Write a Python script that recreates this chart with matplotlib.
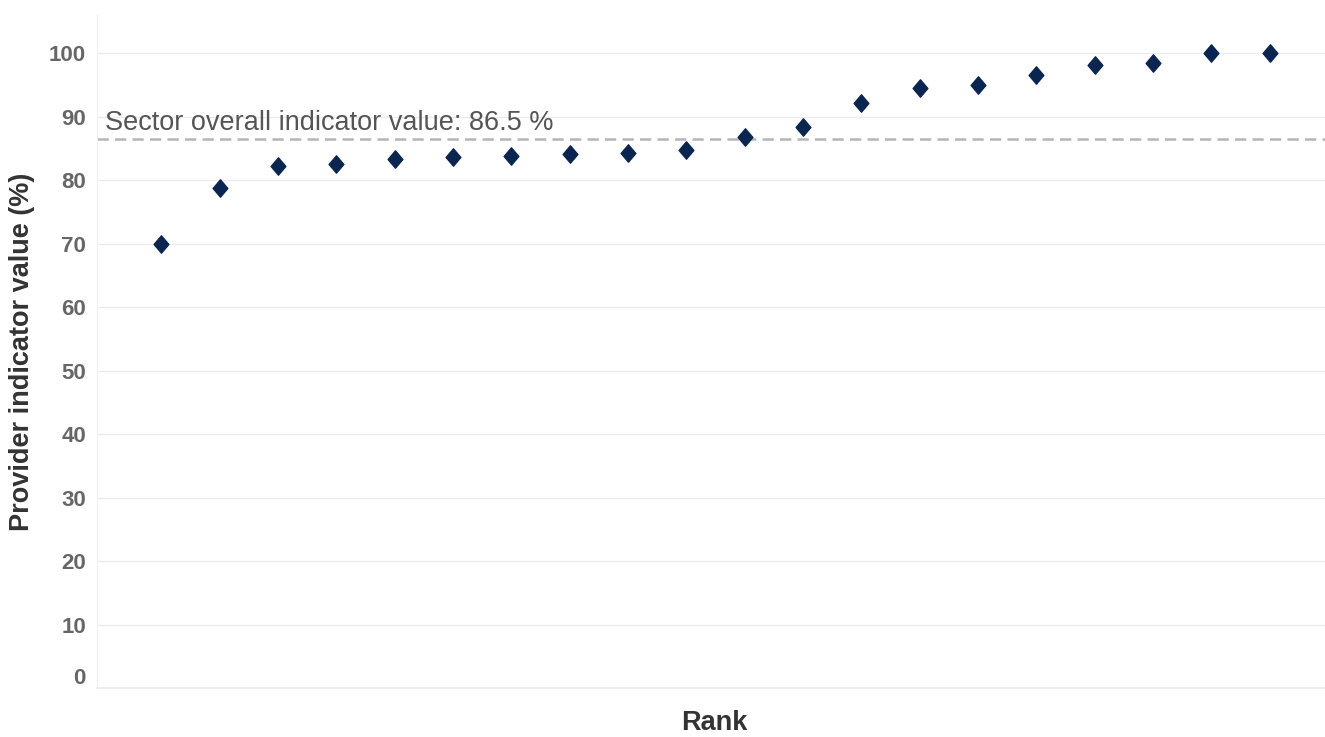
import matplotlib.pyplot as plt
from matplotlib.path import Path
from matplotlib.transforms import ScaledTranslation

# provider values, sorted by rank
RANKS = list(range(1, 21))
VALUES = [70.0, 78.7, 82.2, 82.6, 83.3, 83.6, 83.8, 84.1, 84.2, 84.7,
          86.8, 88.3, 92.2, 94.5, 95.0, 96.6, 98.2, 98.4, 100.0, 100.0]
SECTOR_VALUE = 86.5
Y_TICKS = [0, 10, 20, 30, 40, 50, 60, 70, 80, 90, 100]

plt.rcParams['font.family'] = ['Liberation Sans', 'DejaVu Sans']

fig = plt.figure(figsize=(13.25, 7.37), dpi=100)
ax = fig.add_axes([97 / 1325, 1 - 688 / 737, 1 - 97 / 1325, (688 - 15) / 737])

# slightly tall diamond, like the original
diamond = Path([(0, 1), (0.85, 0), (0, -1), (-0.85, 0), (0, 1)],
               [Path.MOVETO, Path.LINETO, Path.LINETO, Path.LINETO, Path.CLOSEPOLY])
ax.plot(RANKS, VALUES, linestyle='none', marker=diamond, markersize=12.5,
        color='#0a2550', zorder=3)

ax.axhline(SECTOR_VALUE, color='#b5b5b5', linestyle=(0, (4.5, 2.5)), linewidth=1.8, zorder=2)
ax.text(0.03, SECTOR_VALUE + 0.4, f"Sector overall indicator value: {SECTOR_VALUE} %",
        fontsize=19.5, color='#555555', va='bottom', ha='left')

ax.set_xlim(-0.1, 20.95)
ax.set_ylim(0, 106)
ax.set_xticks([])
ax.set_yticks(Y_TICKS)
ax.set_yticklabels([str(t) for t in Y_TICKS], fontsize=16, fontweight='bold', color='#666666')
ax.tick_params(axis='y', length=0, pad=8)
# the zero label sits a little above the baseline
lab0 = ax.get_yticklabels()[0]
lab0.set_transform(lab0.get_transform() + ScaledTranslation(0, 0.12, fig.dpi_scale_trans))

ax.grid(axis='y', color='#ececec', linewidth=1.0)
ax.set_axisbelow(True)
for side in ['top', 'right']:
    ax.spines[side].set_visible(False)
ax.spines['left'].set_color('#f0f0f0')
ax.spines['bottom'].set_color('#ececec')
ax.spines['bottom'].set_linewidth(1.2)

ax.set_ylabel('Provider indicator value (%)', fontsize=19.5, fontweight='bold', color='#333333')
ax.set_xlabel('Rank', fontsize=19.5, fontweight='bold', color='#333333')
ax.yaxis.set_label_coords(-0.061, 0.5)
ax.xaxis.set_label_coords(0.503, -0.052)
ax.xaxis.label.set_va('center')
ax.yaxis.label.set_va('center')

fig.savefig('out.png', dpi=100)
